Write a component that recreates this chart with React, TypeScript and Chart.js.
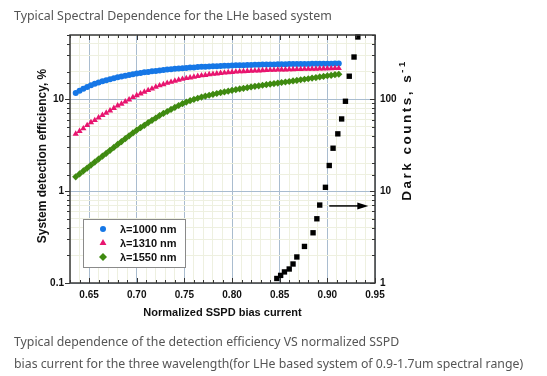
import React, { useEffect, useRef } from 'react';
import { Chart, registerables } from 'chart.js';

Chart.register(...registerables);

// ---- data ----
const XS = [
  0.636, 0.640, 0.644, 0.648, 0.652, 0.656, 0.660, 0.664, 0.668, 0.672,
  0.676, 0.680, 0.684, 0.688, 0.692, 0.696, 0.700, 0.704, 0.708, 0.712,
  0.716, 0.720, 0.724, 0.728, 0.732, 0.736, 0.740, 0.744, 0.748, 0.752,
  0.756, 0.760, 0.764, 0.768, 0.772, 0.776, 0.780, 0.784, 0.788, 0.792,
  0.796, 0.800, 0.804, 0.808, 0.812, 0.816, 0.820, 0.824, 0.828, 0.832,
  0.836, 0.840, 0.844, 0.848, 0.852, 0.856, 0.860, 0.864, 0.868, 0.872,
  0.876, 0.880, 0.884, 0.888, 0.892, 0.896, 0.900, 0.904, 0.908, 0.912,
];
const EFF_1000 = [
  11.7, 12.4, 13.0, 13.6, 14.2, 14.7, 15.2, 15.7, 16.1, 16.5,
  16.9, 17.3, 17.7, 18.0, 18.4, 18.7, 19.0, 19.3, 19.6, 19.8,
  20.1, 20.3, 20.6, 20.8, 21.0, 21.2, 21.4, 21.6, 21.8, 21.9,
  22.1, 22.2, 22.4, 22.5, 22.6, 22.7, 22.8, 22.9, 23.0, 23.1,
  23.2, 23.3, 23.4, 23.4, 23.5, 23.6, 23.6, 23.7, 23.7, 23.8,
  23.8, 23.9, 23.9, 24.0, 24.0, 24.0, 24.1, 24.1, 24.1, 24.2,
  24.2, 24.2, 24.3, 24.3, 24.3, 24.4, 24.4, 24.4, 24.5, 24.5,
];
const EFF_1310 = [
  4.2, 4.5, 4.8, 5.2, 5.6, 5.9, 6.3, 6.7, 7.1, 7.5,
  8.0, 8.5, 8.9, 9.4, 9.9, 10.5, 11.0, 11.5, 12.0, 12.5,
  13.0, 13.6, 14.1, 14.5, 15.0, 15.4, 15.8, 16.2, 16.6, 16.9,
  17.2, 17.5, 17.8, 18.1, 18.3, 18.6, 18.8, 19.0, 19.2, 19.4,
  19.6, 19.7, 19.9, 20.0, 20.1, 20.2, 20.3, 20.4, 20.5, 20.6,
  20.7, 20.8, 20.8, 20.9, 21.0, 21.0, 21.1, 21.1, 21.2, 21.2,
  21.3, 21.3, 21.4, 21.4, 21.5, 21.5, 21.6, 21.6, 21.7, 21.7,
];
const EFF_1550 = [
  1.43, 1.54, 1.66, 1.78, 1.92, 2.07, 2.23, 2.40, 2.58, 2.78,
  2.99, 3.22, 3.46, 3.72, 4.0, 4.3, 4.6, 4.9, 5.2, 5.55,
  5.9, 6.25, 6.65, 7.0, 7.35, 7.75, 8.15, 8.55, 8.95, 9.3,
  9.65, 9.95, 10.25, 10.55, 10.8, 11.05, 11.3, 11.55, 11.8, 12.0,
  12.25, 12.5, 12.7, 12.95, 13.15, 13.35, 13.6, 13.8, 14.0, 14.2,
  14.4, 14.6, 14.8, 15.0, 15.2, 15.4, 15.6, 15.8, 16.0, 16.3,
  16.5, 16.7, 17.0, 17.2, 17.5, 17.7, 18.0, 18.2, 18.5, 18.7,
];
const DARK_X = [
  0.847, 0.851, 0.855, 0.860, 0.864, 0.868, 0.876, 0.885, 0.889, 0.892,
  0.898, 0.902, 0.906, 0.911, 0.915, 0.919, 0.923, 0.928, 0.932,
];
const DARK_Y = [
  1.12, 1.21, 1.32, 1.42, 1.61, 1.92, 2.5, 3.52, 5.0, 7.05,
  11.0, 19.0, 29.3, 42, 61, 95, 178, 288, 476,
];
const SERIES_LABELS = ['λ=1000 nm', 'λ=1310 nm', 'λ=1550 nm'];
const SERIES_COLORS = ['#1677e6', '#e8156f', '#3f8a10'];
const SERIES_SHAPES = ['circle', 'triangle', 'rectRot'];
const X_TITLE = 'Normalized SSPD bias current';
const Y_TITLE = 'System detection efficiency, %';
const Y2_TITLE = 'Dark counts, s';
const Y2_TITLE_SUP = '-1';
const ARROW_FROM_X = 0.902;
const ARROW_TO_X = 0.943;
const ARROW_Y2 = 6.9;

const FONT = '"Liberation Sans", Arial, sans-serif';
const TEXT_FONT = '"Noto Sans", "Open Sans", sans-serif';

const isDecade = (v: number) => {
  const l = Math.log10(v);
  return Math.abs(l - Math.round(l)) < 1e-6;
};
const isMajorX = (v: number) => Math.round(v * 100) % 5 === 0;
const MAJOR_GRID = '#a9bccf';
const MINOR_GRID = '#eef0e0';

function drawMarker(ctx: CanvasRenderingContext2D, shape: string, x: number, y: number, r: number) {
  ctx.beginPath();
  if (shape === 'circle') {
    ctx.arc(x, y, r, 0, Math.PI * 2);
  } else if (shape === 'triangle') {
    ctx.moveTo(x, y - r);
    ctx.lineTo(x + r * 0.866, y + r * 0.5);
    ctx.lineTo(x - r * 0.866, y + r * 0.5);
    ctx.closePath();
  } else {
    ctx.moveTo(x, y - r);
    ctx.lineTo(x + r, y);
    ctx.lineTo(x, y + r);
    ctx.lineTo(x - r, y);
    ctx.closePath();
  }
  ctx.fill();
}

const overlay = {
  id: 'overlay',
  afterDraw(chart: any) {
    const { ctx, chartArea: a, scales } = chart;
    const xs = scales.x, ys = scales.y, y2s = scales.y2;
    ctx.save();
    // tick marks
    ctx.strokeStyle = '#333';
    ctx.lineWidth = 1;
    ctx.beginPath();
    xs.ticks.forEach((t: any) => {
      const px = Math.round(xs.getPixelForValue(t.value)) + 0.5;
      const len = isMajorX(t.value) ? 5 : 3;
      ctx.moveTo(px, a.bottom);
      ctx.lineTo(px, a.bottom - len);
      ctx.moveTo(px, a.top);
      ctx.lineTo(px, a.top + len);
    });
    ys.ticks.forEach((t: any) => {
      const py = Math.round(ys.getPixelForValue(t.value)) + 0.5;
      const len = isDecade(t.value) ? 5 : 3;
      ctx.moveTo(a.left, py);
      ctx.lineTo(a.left - len, py);
    });
    y2s.ticks.forEach((t: any) => {
      const py = Math.round(y2s.getPixelForValue(t.value)) + 0.5;
      const len = isDecade(t.value) ? 5 : 3;
      ctx.moveTo(a.right, py);
      ctx.lineTo(a.right - len, py);
    });
    ctx.stroke();
    // frame
    ctx.lineWidth = 1.5;
    ctx.strokeStyle = '#3a3a3a';
    ctx.strokeRect(a.left, a.top, a.right - a.left, a.bottom - a.top);

    // arrow
    const ay = y2s.getPixelForValue(ARROW_Y2);
    const ax0 = xs.getPixelForValue(ARROW_FROM_X);
    const ax1 = xs.getPixelForValue(ARROW_TO_X);
    ctx.strokeStyle = '#000';
    ctx.fillStyle = '#000';
    ctx.lineWidth = 1.5;
    ctx.beginPath();
    ctx.moveTo(ax0, ay);
    ctx.lineTo(ax1 - 8, ay);
    ctx.stroke();
    ctx.beginPath();
    ctx.moveTo(ax1, ay);
    ctx.lineTo(ax1 - 11, ay - 3.5);
    ctx.lineTo(ax1 - 11, ay + 3.5);
    ctx.closePath();
    ctx.fill();

    // legend box
    const lx = 83, ly = 219, lw = 102, lh = 48;
    ctx.fillStyle = '#fff';
    ctx.fillRect(lx, ly, lw, lh);
    ctx.strokeStyle = '#8a8a8a';
    ctx.lineWidth = 1;
    ctx.strokeRect(lx + 0.5, ly + 0.5, lw, lh);
    ctx.font = `bold 11px ${FONT}`;
    ctx.textBaseline = 'middle';
    ctx.textAlign = 'left';
    SERIES_LABELS.forEach((lab, i) => {
      const yy = ly + 10 + i * 14;
      ctx.fillStyle = SERIES_COLORS[i];
      drawMarker(ctx, SERIES_SHAPES[i], lx + 20, yy, SERIES_SHAPES[i] === 'circle' ? 3 : 4);
      ctx.fillStyle = '#111';
      ctx.fillText(lab, lx + 37, yy + 0.5);
    });

    // axis titles
    ctx.fillStyle = '#111';
    ctx.textAlign = 'center';
    ctx.textBaseline = 'middle';
    ctx.font = `bold 11px ${FONT}`;
    ctx.fillText(X_TITLE, (a.left + a.right) / 2, 313);

    ctx.save();
    ctx.translate(43, 156);
    ctx.rotate(-Math.PI / 2);
    ctx.font = `bold 12px ${FONT}`;
    ctx.fillText(Y_TITLE, 0, 0);
    ctx.restore();

    ctx.save();
    ctx.translate(407, 130);
    ctx.rotate(-Math.PI / 2);
    (ctx as any).letterSpacing = '2.5px';
    ctx.font = `bold 13.5px ${FONT}`;
    const w1 = ctx.measureText(Y2_TITLE).width;
    ctx.font = `bold 9.5px ${FONT}`;
    const w2 = ctx.measureText(Y2_TITLE_SUP).width;
    const start = -(w1 + w2) / 2;
    ctx.textAlign = 'left';
    ctx.font = `bold 13.5px ${FONT}`;
    ctx.fillText(Y2_TITLE, start, 0);
    ctx.font = `bold 9.5px ${FONT}`;
    ctx.fillText(Y2_TITLE_SUP, start + w1, -5);
    ctx.restore();

    ctx.restore();
  },
};

export default function App() {
  const ref = useRef<HTMLCanvasElement | null>(null);
  useEffect(() => {
    if (!ref.current) return;
    const tickFont = { family: FONT, weight: 'bold' as const, size: 10 };
    const mk = (ys: number[], i: number) => ({
      label: SERIES_LABELS[i],
      data: XS.map((x, k) => ({ x, y: ys[k] })),
      yAxisID: 'y',
      showLine: false,
      pointStyle: SERIES_SHAPES[i],
      pointRadius: SERIES_SHAPES[i] === 'circle' ? 3 : 3.6,
      pointBackgroundColor: SERIES_COLORS[i],
      pointBorderWidth: 0,
      clip: false,
    });
    const chart = new Chart(ref.current, {
      type: 'scatter',
      data: {
        datasets: [
          mk(EFF_1550, 2),
          mk(EFF_1310, 1),
          mk(EFF_1000, 0),
          {
            label: 'Dark counts',
            data: DARK_X.map((x, k) => ({ x, y: DARK_Y[k] })),
            yAxisID: 'y2',
            showLine: false,
            pointStyle: 'rect',
            pointRadius: 3.8,
            pointBackgroundColor: '#000',
            pointBorderWidth: 0,
            clip: false,
          } as any,
        ],
      },
      options: {
        responsive: false,
        animation: false,
        devicePixelRatio: 1,
        layout: { padding: { top: 35, left: 0, right: 0, bottom: 0 } },
        plugins: { legend: { display: false }, tooltip: { enabled: false } },
        scales: {
          x: {
            type: 'linear',
            min: 0.63,
            max: 0.95,
            afterFit: (s: any) => { s.height = 93; },
            ticks: {
              stepSize: 0.01,
              autoSkip: false,
              maxRotation: 0,
              padding: 6,
              color: '#111',
              font: tickFont,
              callback: (v: any) => (isMajorX(Number(v)) ? Number(v).toFixed(2) : ''),
            },
            grid: {
              drawTicks: false,
              color: (c: any) => (c.tick && isMajorX(c.tick.value) ? MAJOR_GRID : MINOR_GRID),
              lineWidth: 1,
            },
            border: { display: false },
          },
          y: {
            type: 'logarithmic',
            position: 'left',
            min: 0.1,
            max: 50,
            afterFit: (s: any) => { s.width = 70; },
            ticks: {
              autoSkip: false,
              padding: 6,
              color: '#111',
              font: tickFont,
              callback: (v: any) => {
                const n = Number(v);
                if (!isDecade(n)) return '';
                return n < 1 ? n.toFixed(1) : String(Math.round(n));
              },
            },
            grid: {
              drawTicks: false,
              color: (c: any) => (c.tick && isDecade(c.tick.value) ? MAJOR_GRID : MINOR_GRID),
              lineWidth: 1,
            },
            border: { display: false },
          },
          y2: {
            type: 'logarithmic',
            position: 'right',
            min: 1,
            max: 500,
            afterFit: (s: any) => { s.width = 172; },
            ticks: {
              autoSkip: false,
              padding: 5,
              color: '#111',
              font: tickFont,
              callback: (v: any) => {
                const n = Number(v);
                return isDecade(n) ? String(Math.round(n)) : '';
              },
            },
            grid: { drawOnChartArea: false, drawTicks: false },
            border: { display: false },
          },
        },
      } as any,
      plugins: [overlay],
    });
    return () => chart.destroy();
  }, []);

  const textStyle: React.CSSProperties = {
    position: 'absolute',
    left: 14,
    fontFamily: TEXT_FONT,
    fontSize: 12.3,
    lineHeight: '16px',
    color: '#555',
    whiteSpace: 'nowrap',
  };

  return (
    <div style={{ position: 'fixed', left: 0, top: 0, width: 547, height: 376, background: '#fff', overflow: 'hidden' }}>
      <canvas ref={ref} width={547} height={376} style={{ position: 'absolute', left: 0, top: 0, width: 547, height: 376, display: 'block' }} />
      <div style={{ ...textStyle, top: 8, fontSize: 12.4 }}>Typical Spectral Dependence for the LHe based system</div>
      <div style={{ ...textStyle, top: 334 }}>Typical dependence of the detection efficiency VS normalized SSPD</div>
      <div style={{ ...textStyle, top: 356 }}>bias current for the three wavelength(for LHe based system of 0.9-1.7um spectral range)</div>
    </div>
  );
}
